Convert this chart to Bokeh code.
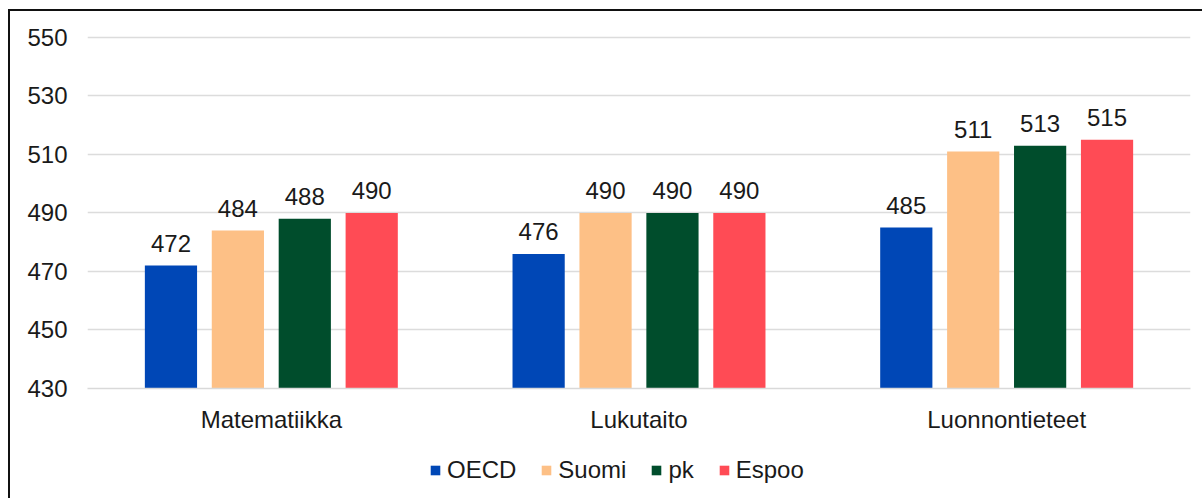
from bokeh.plotting import figure
from bokeh.layouts import column
from bokeh.models import ColumnDataSource, FactorRange, Legend, LegendItem, FixedTicker, LabelSet
from bokeh.core.properties import value
from bokeh.transform import dodge
from bokeh.embed import file_html
from bokeh.resources import INLINE

categories = ["Matematiikka", "Lukutaito", "Luonnontieteet"]
series_names = ["OECD", "Suomi", "pk", "Espoo"]
oecd = [472, 476, 485]
suomi = [484, 490, 511]
pk = [488, 490, 513]
espoo = [490, 490, 515]
y_ticks = [430, 450, 470, 490, 510, 530, 550]

colors = ["#0047B6", "#FDC086", "#004D2C", "#FF4B55"]
offsets = [-0.273, -0.091, 0.091, 0.273]
values = [oecd, suomi, pk, espoo]

FONT = "Liberation Sans"
TXT = "#1a1a1a"

src = ColumnDataSource(dict(cat=categories, OECD=oecd, Suomi=suomi, pk=pk, Espoo=espoo,
                            base=[y_ticks[0]] * len(categories)))
for name, vals in zip(series_names, values):
    src.data[name + "_lbl"] = [str(v) for v in vals]

# ---- main chart ----
p = figure(x_range=FactorRange(*categories), y_range=(y_ticks[0], y_ticks[-1] + 1),
           frame_width=1103, frame_height=354, output_backend="svg", toolbar_location=None,
           min_border_left=77, min_border_right=12, min_border_top=23, min_border_bottom=50)

for name, col, off in zip(series_names, colors, offsets):
    p.vbar(x=dodge("cat", off, range=p.x_range), top=name, bottom="base", width=0.142,
           source=src, fill_color=col, line_color=None)
    lbl = LabelSet(x=dodge("cat", off, range=p.x_range), y=name, text=name + "_lbl", source=src,
                   text_align="center", text_baseline="alphabetic", y_offset=14,
                   text_font=value(FONT), text_font_size="24px", text_color=TXT)
    p.add_layout(lbl)

p.yaxis.ticker = FixedTicker(ticks=y_ticks)
p.yaxis.axis_line_color = None
p.yaxis.major_tick_line_color = None
p.yaxis.minor_tick_line_color = None
p.yaxis.major_label_standoff = 14
p.yaxis.major_label_text_font = FONT
p.yaxis.major_label_text_font_size = "24px"
p.yaxis.major_label_text_color = TXT

p.xaxis.axis_line_color = "#d9d9d9"
p.xaxis.axis_line_width = 1.5
p.xaxis.major_tick_line_color = None
p.xaxis.minor_tick_line_color = None
p.xaxis.major_label_standoff = 11
p.xaxis.major_label_text_font = FONT
p.xaxis.major_label_text_font_size = "24px"
p.xaxis.major_label_text_color = TXT

p.xgrid.grid_line_color = None
p.ygrid.grid_line_color = "#dcdcdc"
p.ygrid.grid_line_width = 1.5
p.outline_line_color = None

# ---- legend strip (same series; its renderers are hidden, only the legend shows) ----
q = figure(x_range=FactorRange(*categories), y_range=(0, 1),
           frame_width=1103, frame_height=60, output_backend="svg", toolbar_location=None,
           x_axis_location=None, y_axis_location=None,
           min_border_left=77, min_border_right=12, min_border_top=0, min_border_bottom=0)
q.grid.visible = False
q.outline_line_color = None

items = []
for name, col, off in zip(series_names, colors, offsets):
    r = q.vbar(x=dodge("cat", off, range=q.x_range), top=name, bottom="base", width=0.142,
               source=src, fill_color=col, line_color=None, visible=False)
    items.append(LegendItem(label=name, renderers=[r]))

legend = Legend(items=items, orientation="horizontal", location=(342, 14),
                glyph_width=12, glyph_height=12, label_standoff=6, spacing=24,
                padding=0, margin=0, border_line_color=None, background_fill_alpha=0,
                inactive_fill_alpha=0,
                label_text_font=FONT, label_text_font_size="24px", label_text_color=TXT)
q.add_layout(legend, "center")

layout = column(p, q, spacing=0,
                styles={"margin-left": "8px", "margin-top": "9px",
                        "border-left": "2px solid #111", "border-top": "2px solid #111"})

open("out.html", "w").write(file_html(layout, INLINE))
